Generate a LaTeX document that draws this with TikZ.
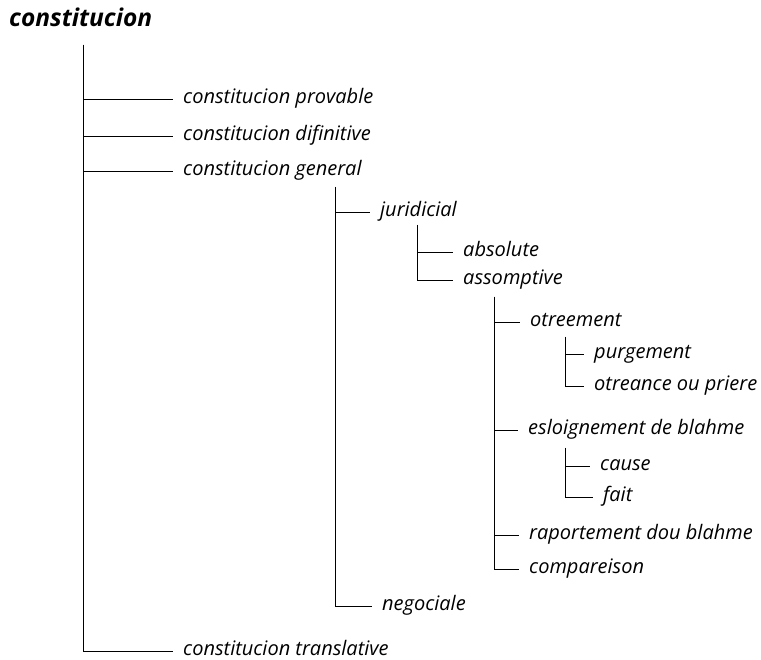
\documentclass[tikz,border=0pt]{standalone}
\usepackage{fontspec}
\setmainfont{Open Sans}
\begin{document}
\begin{tikzpicture}[x=1pt,y=-1pt,
  lbl/.style={anchor=west, inner xsep=0pt, inner ysep=0pt, text height=9pt, text depth=0pt,
    font=\itshape\fontsize{20}{24}\selectfont},
  br/.style={line width=0.8pt, shorten >=10pt}]
\useasboundingbox (0,0) rectangle (761,660);
\coordinate (S0) at (83,45);
\coordinate (S1) at (335,187);
\coordinate (S2) at (417,225);
\coordinate (S3) at (494,297);
\coordinate (S4) at (565,337);
\coordinate (S5) at (565,448);

\node[anchor=base west, inner sep=0pt, font=\bfseries\itshape\fontsize{24.5}{28}\selectfont] (root) at (9,27) {constitucion};

\node[lbl] (prov) at (183,99) {constitucion provable};
\node[lbl] (difi) at (183,136) {constitucion difinitive};
\node[lbl] (gen) at (183,171) {constitucion general};
\node[lbl] (jur) at (380,212) {juridicial};
\node[lbl] (abs) at (463,252) {absolute};
\node[lbl] (asso) at (463,280) {assomptive};
\node[lbl] (otre) at (530,322) {otreement};
\node[lbl] (purg) at (594,354) {purgement};
\node[lbl] (otrp) at (594,386) {otreance ou priere};
\node[lbl] (eslo) at (528,430) {esloignement de blahme};
\node[lbl] (cause) at (600,466) {cause};
\node[lbl] (fait) at (603,497) {fait};
\node[lbl] (rapo) at (529,535) {raportement dou blahme};
\node[lbl] (comp) at (529,569) {compareison};
\node[lbl] (nego) at (382,606) {negociale};
\node[lbl] (tran) at (183,651) {constitucion translative};

% constitucion
\draw[br] (S0) |- (prov.west);
\draw[br] (S0) |- (difi.west);
\draw[br] (S0) |- (gen.west);
\draw[br] (S0) |- (tran.west);
% general
\draw[br] (S1) |- (jur.west);
\draw[br] (S1) |- (nego.west);
% juridicial
\draw[br] (S2) |- (abs.west);
\draw[br] (S2) |- (asso.west);
% assomptive
\draw[br] (S3) |- (otre.west);
\draw[br] (S3) |- (eslo.west);
\draw[br] (S3) |- (rapo.west);
\draw[br] (S3) |- (comp.west);
% otreement
\draw[br] (S4) |- (purg.west);
\draw[br] (S4) |- (otrp.west);
% esloignement
\draw[br] (S5) |- (cause.west);
\draw[br] (S5) |- (fait.west);
\end{tikzpicture}
\end{document}
